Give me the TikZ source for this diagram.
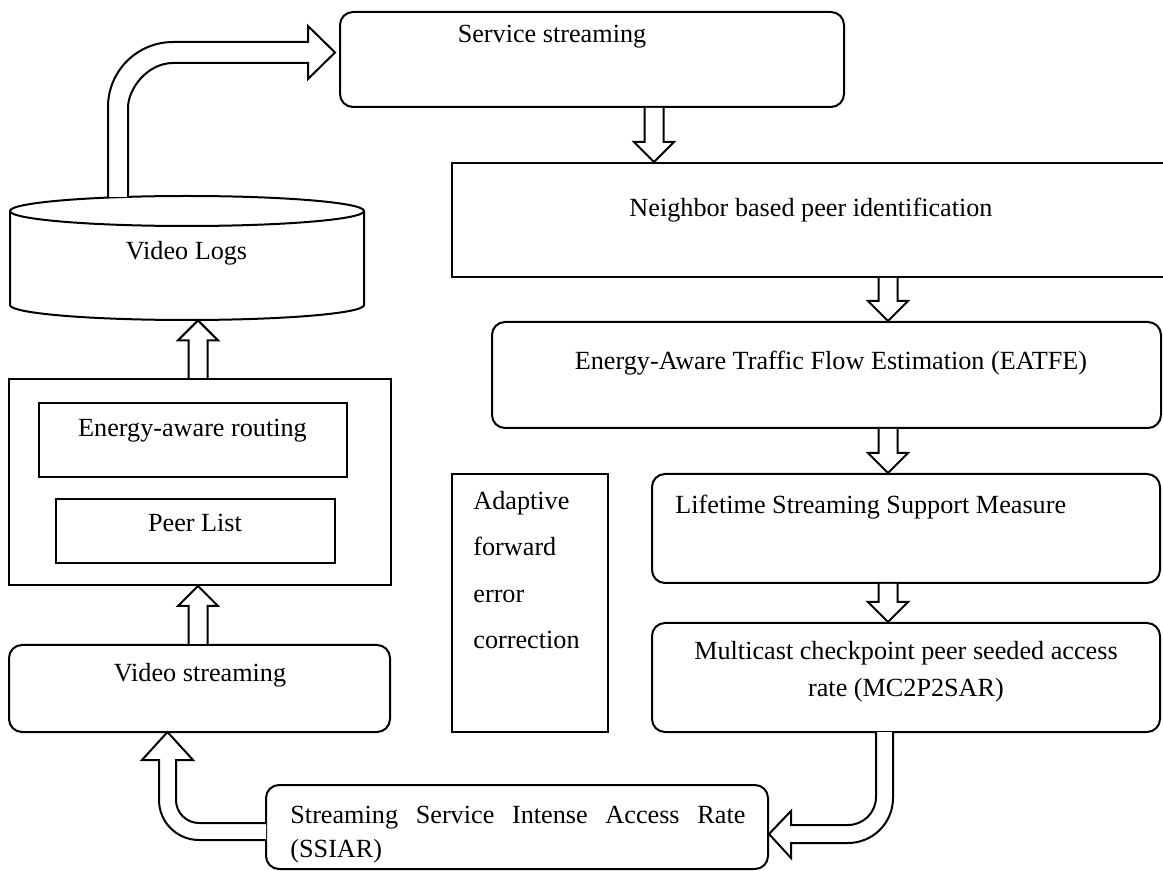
\documentclass[tikz,border=0pt]{standalone}
\usepackage{fontspec}
\setmainfont{Liberation Serif}
\usepackage{tikz}
\usetikzlibrary{calc}
\tikzset{
every node/.style={font=\fontsize{13.1pt}{18.5pt}\selectfont}, % Times-like text everywhere
box/.style={draw, line width=1pt, inner sep=0pt}, % plain rectangle
rbox/.style={box, rounded corners=6.5pt}, % rounded process box
txt/.style={inner sep=0pt, text height=0.7em, text depth=0.22em}, % one line of text
para/.style={inner sep=0pt}, % several lines of text
blockarr/.style={draw, fill=white, line width=1pt, line join=miter}, % hollow block arrow
}
% straight hollow arrow from #1 to #2
\newcommand{\blockarrow}[2]{%
  \coordinate (ba-s) at (#1);
  \coordinate (ba-e) at (#2);
  \coordinate (ba-b) at ($(ba-e)!10pt!(ba-s)$);
  \draw[blockarr] ($(ba-s)!4.75pt!90:(ba-e)$) -- ($(ba-b)!4.75pt!90:(ba-e)$)
    -- ($(ba-b)!10pt!90:(ba-e)$) -- (ba-e) -- ($(ba-b)!10pt!-90:(ba-e)$)
    -- ($(ba-b)!4.75pt!-90:(ba-e)$) -- ($(ba-s)!4.75pt!-90:(ba-e)$);
}

\begin{document}
\begin{tikzpicture}[x=0.5pt, y=-0.5pt]
  \useasboundingbox (0,0) rectangle (1163,871);
  \clip (0,0) rectangle (1163,871);

  % right column
  \node[rbox, minimum width=252pt, minimum height=47.5pt] (svc) at (592,59.5) {};
  \node[box, minimum width=359pt, minimum height=57pt] (nbr) at (811,220) {};
  \node[rbox, minimum width=334.5pt, minimum height=53pt] (eat) at (826.5,375) {};
  \node[rbox, minimum width=254pt, minimum height=54.5pt] (lsm) at (906,528.5) {};
  \node[rbox, minimum width=254pt, minimum height=54.5pt] (mcp) at (906,677.5) {};
  \node[box, minimum width=78pt, minimum height=129pt] (afe) at (530,603) {};
  \node[rbox, minimum width=251pt, minimum height=42pt] (ssi) at (517,827) {};
  % left column
  \node[rbox, minimum width=190.5pt, minimum height=43.5pt] (vid) at (199.5,688.5) {};
  \node[box, minimum width=191pt, minimum height=103pt] (grp) at (200,482) {};
  \node[box, minimum width=154pt, minimum height=37pt] (ear) at (193,440) {};
  \node[box, minimum width=139.5pt, minimum height=32pt] (pl) at (195.5,531) {};
  \node[inner sep=0pt, minimum width=177pt, minimum height=61.5pt] (log) at (187,258.5) {};
  \draw[line width=1pt] (187,211) ellipse [x radius=177, y radius=15];
  \draw[line width=1pt] (10,211) -- (10,305) arc[start angle=180, end angle=0, x radius=177, y radius=15] -- (364,211);

  % texts
  \node[txt] (svc-t) at (552,38) {Service streaming};
  \node[txt] (nbr-t) at (811,212) {Neighbor based peer identification};
  \node[txt] (eat-t) at (831,365) {Energy-Aware Traffic Flow Estimation (EATFE)};
  \node[txt, anchor=west] (lsm-t) at (675,509) {Lifetime Streaming Support Measure};
  \node[para, align=center, anchor=north] (mcp-t) at (906,641) {Multicast checkpoint peer seeded access\\rate (MC2P2SAR)};
  \node[para, align=left, anchor=north west, font=\fontsize{13.1pt}{23.2pt}\selectfont] (afe-t) at (473,491) {Adaptive\\forward\\error\\correction};
  \node[para, text width=227.5pt, align=left, anchor=north west, font=\fontsize{13.1pt}{17pt}\selectfont] (ssi-t) at (290,806) {Streaming\hfill Service\hfill Intense\hfill Access\hfill Rate\\(SSIAR)};
  \node[txt] (vid-t) at (200,677) {Video streaming};
  \node[txt] (ear-t) at (192.5,432) {Energy-aware routing};
  \node[txt] (pl-t) at (195,527) {Peer List};
  \node[txt] (log-t) at (186.5,255) {Video Logs};

  % straight arrows
  \coordinate (c1) at (654,0);
  \coordinate (c2) at (888,0);
  \coordinate (c3) at (198,0);
  \blockarrow{svc.south -| c1}{nbr.north -| c1}
  \blockarrow{nbr.south -| c2}{eat.north -| c2}
  \blockarrow{eat.south -| c2}{lsm.north -| c2}
  \blockarrow{lsm.south -| c2}{mcp.north -| c2}
  \blockarrow{grp.north -| c3}{log.south -| c3}
  \blockarrow{vid.north -| c3}{grp.south -| c3}

  % bent arrows
  \draw[blockarr] (108,197) -- (108,107) .. controls (108,71.1) and (137.1,42) .. (173,42)
    -- (308,42) -- (308,26) -- (335,52.5) -- (308,79) -- (308,63) -- (173,63)
    .. controls (148.1,63) and (128,87.9) .. (128,108) -- (128,197);
  \draw[blockarr] (893,732) -- (893,798) .. controls (893,822.9) and (872.9,843) .. (848,843)
    -- (791,843) -- (791,858) -- (769,834) -- (791,811) -- (791,825) -- (848,825)
    .. controls (863.5,825) and (876,812.5) .. (876,797) -- (876,732);
  \draw[blockarr] (266,823) -- (199,823) .. controls (186.3,823) and (176,812.7) .. (176,800)
    -- (176,760) -- (193,760) -- (167.5,732) -- (142,760) -- (159,760) -- (159,800)
    .. controls (159,822.1) and (176.9,840) .. (199,840) -- (266,840);
\end{tikzpicture}
\end{document}
